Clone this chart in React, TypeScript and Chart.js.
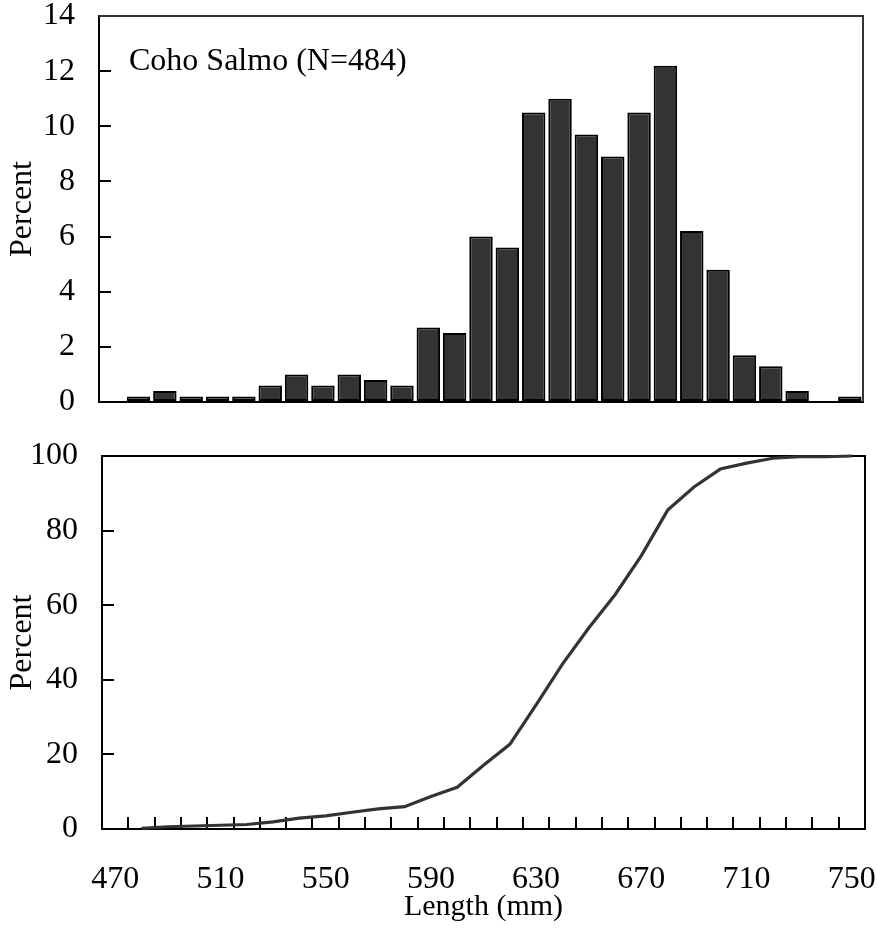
import React, { useEffect, useRef } from 'react';
import { Chart, registerables } from 'chart.js';

Chart.register(...registerables);

// ---- data ----
const lengthCategories = [
  '470', '480', '490', '500', '510', '520', '530', '540', '550', '560',
  '570', '580', '590', '600', '610', '620', '630', '640', '650', '660',
  '670', '680', '690', '700', '710', '720', '730', '740', '750',
];
const shownXLabels = ['470', '510', '550', '590', '630', '670', '710', '750'];

// percent of fish in each 10 mm length class (top panel)
const histPercent = [
  null, 0.2, 0.4, 0.2, 0.2, 0.2, 0.6, 1.0, 0.6, 1.0,
  0.8, 0.6, 2.7, 2.5, 6.0, 5.6, 10.5, 11.0, 9.7, 8.9,
  10.5, 12.2, 6.2, 4.8, 1.7, 1.3, 0.4, 0, 0.2,
];

// cumulative percent (bottom panel)
const cumulativePercent = [
  null, 0.2, 0.6, 0.8, 1.0, 1.2, 1.9, 2.9, 3.5, 4.5,
  5.4, 6.0, 8.7, 11.2, 17.1, 22.7, 33.3, 44.2, 53.9, 62.8,
  73.3, 85.5, 91.7, 96.5, 98.1, 99.4, 99.8, 99.8, 100,
];

const histYTicks = { min: 0, max: 14, step: 2 };
const cumYTicks = { min: 0, max: 100, step: 20 };

const annotationText = 'Coho Salmo (N=484)';
const yTitle = 'Percent';
const xTitle = 'Length (mm)';

// ---- styling ----
const FAMILY = "'Liberation Serif', 'Times New Roman', serif";
const tickFont = { family: FAMILY, size: 32 };
const xTitleFont = { family: FAMILY, size: 30 };
const yTitleFont = { family: FAMILY, size: 32 };

const framePlugin = {
  id: 'frame',
  beforeDatasetsDraw(chart: any, _args: any, opts: any) {
    const { ctx, chartArea } = chart;
    ctx.save();
    ctx.strokeStyle = opts.color || '#000';
    ctx.lineWidth = opts.width || 2;
    ctx.beginPath();
    ctx.moveTo(chartArea.left, chartArea.top);
    ctx.lineTo(chartArea.right, chartArea.top);
    ctx.lineTo(chartArea.right, chartArea.bottom);
    ctx.stroke();
    ctx.restore();
  },
};

const annotPlugin = {
  id: 'annot',
  afterDatasetsDraw(chart: any, _args: any, opts: any) {
    if (!opts || !opts.text) return;
    const { ctx, chartArea } = chart;
    ctx.save();
    ctx.font = `32px ${FAMILY}`;
    ctx.fillStyle = '#000';
    ctx.textBaseline = 'alphabetic';
    ctx.textAlign = 'left';
    ctx.fillText(opts.text, chartArea.left + opts.dx, chartArea.top + opts.dy);
    ctx.restore();
  },
};

function yAxis(range: { min: number; max: number; step: number }, width: number) {
  return {
    type: 'linear',
    min: range.min,
    max: range.max,
    ticks: {
      stepSize: range.step,
      color: '#000',
      font: tickFont,
      padding: 36,
    },
    grid: {
      drawOnChartArea: false,
      drawTicks: true,
      tickLength: -12,
      color: '#000',
      lineWidth: 2,
    },
    border: { display: true, color: '#000', width: 2 },
    title: {
      display: true,
      text: yTitle,
      color: '#000',
      font: yTitleFont,
      padding: { top: 3, bottom: 0 },
    },
    afterFit(s: any) {
      s.width = width;
      s.paddingTop = 0;
      s.paddingBottom = 0;
    },
  };
}

function HistChart() {
  const ref = useRef<HTMLCanvasElement | null>(null);
  useEffect(() => {
    if (!ref.current) return;
    const chart = new Chart(ref.current, {
      type: 'bar',
      data: {
        labels: lengthCategories,
        datasets: [
          {
            data: histPercent as any,
            backgroundColor: '#333333',
            borderColor: '#000000',
            borderWidth: 2,
            borderSkipped: false,
            categoryPercentage: 1,
            barPercentage: 0.89,
          },
        ],
      },
      options: {
        responsive: false,
        animation: false,
        layout: { padding: { top: 16, right: 14, left: 0, bottom: 0 } },
        plugins: {
          legend: { display: false },
          tooltip: { enabled: false },
          frame: { color: '#333333', width: 2 },
          annot: { text: annotationText, dx: 30, dy: 54 },
        } as any,
        scales: {
          x: {
            type: 'category',
            offset: true,
            grid: { display: false },
            border: { display: true, color: '#000', width: 2 },
            ticks: { display: false },
            afterFit(s: any) {
              s.height = 28;
              s.paddingLeft = 0;
              s.paddingRight = 0;
            },
          },
          y: yAxis(histYTicks, 99) as any,
        },
      },
      plugins: [framePlugin, annotPlugin],
    });
    return () => chart.destroy();
  }, []);
  return (
    <canvas
      ref={ref}
      width={877}
      height={430}
      style={{ position: 'absolute', left: 0, top: 0, width: 877, height: 430 }}
    />
  );
}

function CumChart() {
  const ref = useRef<HTMLCanvasElement | null>(null);
  useEffect(() => {
    if (!ref.current) return;
    const chart = new Chart(ref.current, {
      type: 'line',
      data: {
        labels: lengthCategories,
        datasets: [
          {
            data: cumulativePercent as any,
            borderColor: '#333333',
            borderWidth: 3.2,
            pointRadius: 0,
            tension: 0,
            fill: false,
            clip: false as any,
          },
        ],
      },
      options: {
        responsive: false,
        animation: false,
        layout: { padding: { top: 26, right: 12, left: 0, bottom: 0 } },
        plugins: {
          legend: { display: false },
          tooltip: { enabled: false },
          frame: { color: '#000000', width: 2 },
        } as any,
        scales: {
          x: {
            type: 'category',
            offset: true,
            grid: {
              offset: true,
              drawOnChartArea: false,
              drawTicks: true,
              tickLength: -12,
              color: '#000',
              lineWidth: 2,
            },
            border: { display: true, color: '#000', width: 2 },
            ticks: {
              autoSkip: false,
              maxRotation: 0,
              minRotation: 0,
              color: '#000',
              font: tickFont,
              padding: 43,
              callback(this: any, value: any) {
                const lab = this.getLabelForValue(value);
                return shownXLabels.includes(lab) ? lab : '';
              },
            },
            title: {
              display: true,
              text: xTitle,
              color: '#000',
              font: xTitleFont,
              padding: { top: 0, bottom: 11 },
            },
            afterFit(s: any) {
              s.height = 107;
              s.paddingLeft = 0;
              s.paddingRight = 0;
            },
          },
          y: yAxis(cumYTicks, 102) as any,
        },
      },
      plugins: [framePlugin],
    });
    return () => chart.destroy();
  }, []);
  return (
    <canvas
      ref={ref}
      width={877}
      height={506}
      style={{ position: 'absolute', left: 0, top: 430, width: 877, height: 506 }}
    />
  );
}

export default function App() {
  return (
    <div
      style={{
        position: 'absolute',
        left: 0,
        top: 0,
        width: 877,
        height: 936,
        background: '#ffffff',
        overflow: 'hidden',
      }}
    >
      <HistChart />
      <CumChart />
    </div>
  );
}
